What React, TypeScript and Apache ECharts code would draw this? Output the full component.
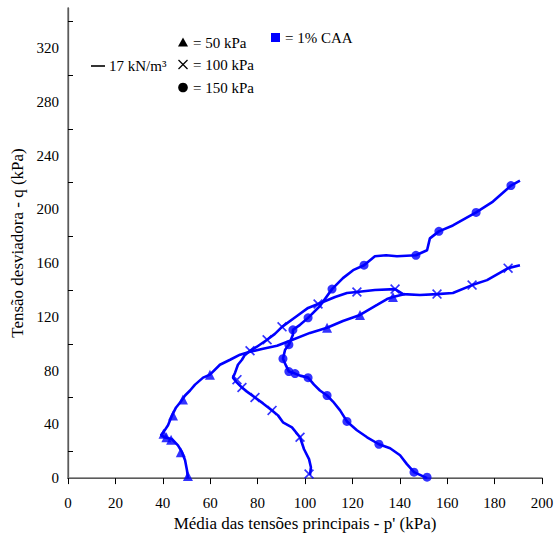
import React, { useEffect, useRef } from "react";
import * as echarts from "echarts";

const X_TICKS = [0, 20, 40, 60, 80, 100, 120, 140, 160, 180, 200];
const Y_LABELS = [0, 40, 80, 120, 160, 200, 240, 280, 320];
const Y_TICKS = [20, 60, 100, 140, 180, 220, 260, 300, 340];

// 50 kPa path (triangles)
const path50: number[][] = [
  [50.6, 0], [50.2, 5.9], [49.4, 13.3], [48.1, 19.3], [46.4, 24.4], [43.9, 28.9],
  [40.9, 30.4], [39.2, 31.9], [40.5, 34.8], [42.2, 39.3], [43.9, 46.7], [45.6, 52.6],
  [47.3, 56.3], [49.4, 61.5], [51.5, 65.2], [53.6, 69.6], [57.0, 74.8], [59.9, 77.0],
  [64.1, 84.4], [68.4, 88.1], [72.6, 91.9], [76.8, 94.1], [82.3, 96.3], [88.2, 98.5],
  [93.7, 102.2], [102.1, 108.1], [109.3, 111.9], [116.0, 117.0], [123.2, 121.5],
  [130.4, 128.9], [134.6, 133.3], [137.1, 134.8], [142.2, 137.0],
];
const marks50: number[][] = [
  [50.6, 1.5], [47.6, 19.3], [43.5, 28.5], [41.5, 30.5], [40.3, 33.0], [44.3, 46.7],
  [48.5, 58.5], [59.9, 77.0], [109.3, 111.9], [123.2, 121.5], [137.1, 134.8],
];

// 100 kPa path (crosses)
const path100: number[][] = [
  [102.1, 2.2], [102.5, 8.1], [101.7, 14.1], [99.6, 21.5], [97.9, 30.4], [94.5, 37.8],
  [90.7, 41.5], [88.6, 46.7], [86.1, 50.4], [82.3, 55.6], [78.9, 60.0], [75.5, 64.4],
  [73.4, 67.4], [71.3, 71.1], [69.6, 74.8], [70.5, 78.5], [71.7, 84.4], [73.4, 88.1],
  [74.7, 91.9], [76.8, 94.8], [79.7, 97.8], [84.0, 103.0], [87.3, 107.4], [90.3, 112.6],
  [96.6, 120.7], [101.3, 126.7], [105.5, 129.6], [112.7, 134.8], [117.7, 137.8],
  [121.9, 138.5], [129.5, 140.0], [138.0, 140.7], [141.4, 137.0], [148.5, 136.3],
  [155.7, 137.0], [162.4, 137.8], [170.5, 143.7], [176.8, 147.4], [185.7, 156.3],
  [190.7, 158.5],
];
const marks100: number[][] = [
  [101.7, 3.0], [97.9, 30.4], [86.1, 50.4], [78.9, 60.0], [73.4, 67.4], [71.3, 73.3],
  [76.8, 94.8], [84.0, 103.0], [90.3, 112.6], [105.5, 129.6], [121.9, 138.5],
  [138.0, 140.7], [155.7, 137.0], [170.5, 143.7], [185.7, 156.3],
];

// 150 kPa path (circles)
const path150: number[][] = [
  [151.5, 0], [146.0, 4.4], [143.0, 10.4], [140.1, 17.0], [135.9, 22.2], [131.2, 25.2],
  [126.2, 30.4], [121.9, 35.6], [117.7, 42.2], [114.8, 50.4], [111.8, 57.0], [109.3, 61.5],
  [106.3, 65.2], [103.8, 69.6], [101.3, 74.8], [97.9, 76.3], [95.8, 77.8], [93.2, 79.3],
  [92.0, 83.7], [90.7, 88.9], [91.6, 95.6], [93.2, 99.3], [94.9, 106.7], [94.9, 110.4],
  [97.9, 114.1], [101.3, 119.3], [106.3, 128.1], [111.4, 140.7], [116.0, 148.9],
  [120.3, 154.8], [124.9, 158.5], [129.5, 165.2], [134.2, 165.9], [138.8, 165.2],
  [146.8, 165.9], [151.5, 169.6], [152.7, 178.5], [156.5, 183.7], [162.4, 188.1],
  [172.2, 197.8], [179.3, 205.9], [186.9, 217.8], [190.7, 221.5],
];
const marks150: number[][] = [
  [151.5, 0.7], [146.0, 4.4], [131.2, 25.2], [117.7, 42.2], [109.3, 61.5], [101.3, 74.8],
  [95.8, 77.8], [93.2, 79.3], [90.7, 88.9], [93.2, 99.3], [94.9, 110.4], [101.3, 119.3],
  [111.4, 140.7], [124.9, 158.5], [146.8, 165.9], [156.5, 183.7], [172.2, 197.8],
  [186.9, 217.8],
];

const BLUE = "#0000ff";
const FONT = "Liberation Serif";
const CROSS =
  "path://M0,1.2L1.2,0L5,3.8L8.8,0L10,1.2L6.2,5L10,8.8L8.8,10L5,6.2L1.2,10L0,8.8L3.8,5Z";

export default function App() {
  const ref = useRef<HTMLDivElement>(null);
  useEffect(() => {
    const chart = echarts.init(ref.current!, null, { renderer: "svg" });
    const lineSeries = (data: number[][]) => ({
      type: "line",
      data,
      symbol: "none",
      lineStyle: { color: BLUE, width: 2.6 },
      itemStyle: { color: BLUE },
      z: 2,
    });
    const txt = (text: string, x: number, y: number) => ({
      type: "text", x, y,
      style: { text, fontFamily: FONT, fontSize: 15, fill: "#000", verticalAlign: "middle" },
    });
    chart.setOption({
      animation: false,
      backgroundColor: "#ffffff",
      grid: { left: 68, right: 18, top: 8, bottom: 56 },
      xAxis: [
        {
          type: "value",
          min: 0,
          max: 200,
          interval: 20,
          name: "Média das tensões principais - p' (kPa)",
          nameLocation: "middle",
          nameGap: 32,
          nameTextStyle: { fontFamily: FONT, fontSize: 17, color: "#000" },
          axisLine: { lineStyle: { color: "#000", width: 1.2 } },
          axisTick: { show: true, inside: false, length: 6, customValues: X_TICKS, lineStyle: { color: "#000" } },
          axisLabel: { fontFamily: FONT, fontSize: 15, color: "#000", margin: 17, customValues: X_TICKS },
          splitLine: { show: false },
        },
        {
          type: "value",
          position: "top",
          min: 0,
          max: 200,
          axisLine: { show: true, lineStyle: { color: "#7a7a7a", width: 1.5 } },
          axisTick: { show: false },
          axisLabel: { show: false },
          splitLine: { show: false },
        },
      ],
      yAxis: [
        {
          type: "value",
          min: 0,
          max: 350,
          name: "Tensão desviadora - q (kPa)",
          nameLocation: "middle",
          nameGap: 36,
          nameTextStyle: { fontFamily: FONT, fontSize: 17, color: "#000" },
          axisLine: { show: true, lineStyle: { color: "#000", width: 1.2 } },
          axisTick: {
            show: true,
            inside: true,
            length: 5,
            customValues: Y_TICKS,
            lineStyle: { color: "#000" },
          },
          axisLabel: {
            fontFamily: FONT,
            fontSize: 15,
            color: "#000",
            margin: 9,
            customValues: Y_LABELS,
          },
          splitLine: { show: false },
        },
        {
          type: "value",
          position: "right",
          min: 0,
          max: 350,
          axisLine: { show: true, lineStyle: { color: "#7a7a7a", width: 1.5 } },
          axisTick: { show: false },
          axisLabel: { show: false },
          splitLine: { show: false },
        },
      ],
      series: [
        lineSeries(path50),
        lineSeries(path100),
        lineSeries(path150),
        {
          type: "scatter",
          data: marks50,
          symbol: "triangle",
          symbolSize: 10,
          itemStyle: { color: BLUE },
          z: 3,
        },
        {
          type: "scatter",
          data: marks100,
          symbol: CROSS,
          symbolSize: 10,
          itemStyle: { color: BLUE },
          z: 3,
        },
        {
          type: "scatter",
          data: marks150,
          symbol: "circle",
          symbolSize: 9,
          itemStyle: { color: BLUE },
          z: 3,
        },
      ],
      graphic: [
        { type: "line", shape: { x1: 91, y1: 66, x2: 105, y2: 66 }, style: { stroke: "#000", lineWidth: 1.6 } },
        txt("17 kN/m³", 109, 66),
        { type: "polygon", shape: { points: [[178, 46.5], [188, 46.5], [183, 37.5]] }, style: { fill: "#000" } },
        txt("= 50 kPa", 193, 42.5),
        { type: "line", shape: { x1: 178.5, y1: 60, x2: 187.5, y2: 69 }, style: { stroke: "#000", lineWidth: 1.3 } },
        { type: "line", shape: { x1: 187.5, y1: 60, x2: 178.5, y2: 69 }, style: { stroke: "#000", lineWidth: 1.3 } },
        txt("= 100 kPa", 193, 64.5),
        { type: "circle", shape: { cx: 183, cy: 87.5, r: 4.8 }, style: { fill: "#000" } },
        txt("= 150 kPa", 193, 87.5),
        { type: "rect", shape: { x: 271, y: 33, width: 9, height: 9 }, style: { fill: BLUE } },
        txt("= 1% CAA", 285, 38),
      ],
    });
    return () => chart.dispose();
  }, []);
  return <div ref={ref} style={{ position: "fixed", left: 0, top: 0, width: 560, height: 537 }} />;
}
